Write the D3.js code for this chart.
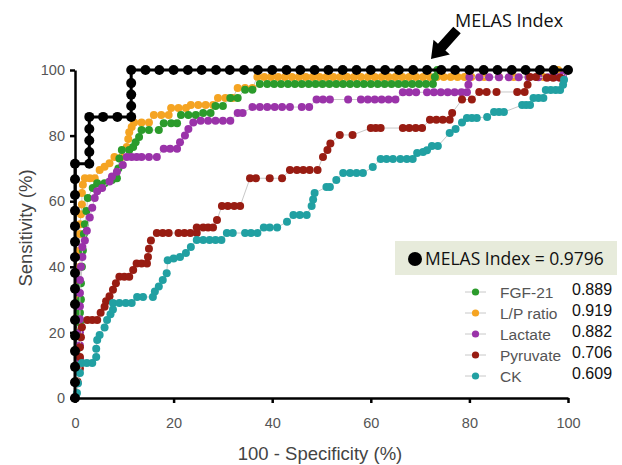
<!DOCTYPE html>
<html>
<head>
<meta charset="utf-8">
<script src="https://cdn.jsdelivr.net/npm/d3@7"></script>
<style>
  body { margin: 0; background: #fff; }
  svg { display: block; }
</style>
</head>
<body>
<div class="canvas"></div>
<script>
// ROC curves, x = 100 - specificity, y = sensitivity (both %)
var melasIndex = [[0,0],[0,4.8],[0,9.5],[0,14.3],[0,19],[0,23.8],[0,28.6],[0,33.3],[0,38.1],[0,42.9],[0,47.6],[0,52.4],[0,57.1],[0,61.9],[0,66.7],[0,71.4],
  [2.9,71.4],[2.9,75],[2.9,78.5],[2.9,82],[2.9,85.7],[5.7,85.7],[8.6,85.7],[11.4,85.7],[11.4,89],[11.4,92.5],[11.4,96],[11.4,100],
  [14.3,100],[17.1,100],[20,100],[22.9,100],[25.7,100],[28.6,100],[31.4,100],[34.3,100],[37.1,100],[40,100],[42.9,100],[45.7,100],[48.6,100],
  [51.4,100],[54.3,100],[57.1,100],[60,100],[62.9,100],[65.7,100],[68.6,100],[71.4,100],[74.3,100],[77.1,100],[80,100],[82.9,100],[85.7,100],
  [88.6,100],[91.4,100],[94.3,100],[97.1,100],[100,100]]

var lpRatio = [[0,0],[0.3,5],[0.3,10],[0.5,15],[0.5,20],[0.5,25],[0.8,30],[0.8,35],[1,40],[1,45],[1,50],[1,53],[1.2,56],[1.4,59],[1.4,62.5],[1.6,65],
  [2,67],[3,67],[4,67],[5,69.5],[6,70.5],[7,71.6],[8,73.5],[9.5,73.5],[10.5,76.5],[10.8,79],[11,81],[11.5,82.6],[12,84],[13.5,84],[15,84],
  [16,86.3],[17.5,86.3],[19,86.3],[19.5,88.4],[21,88.4],[22.5,88.4],[23.5,89.3],[25,89.3],[26.5,89.3],[28,89.3],[29,91.5],[30.5,91.5],[32,91.5],
  [33,94.5],[34.5,94.5],[36,94.5],[37,97.9],[38.4,97.9],[39.8,97.9],[41.2,97.9],[42.6,97.9],[44,97.9],[45.4,97.9],[46.8,97.9],[48.2,97.9],
  [49.6,97.9],[51,97.9],[52.4,97.9],[53.8,97.9],[55.2,97.9],[56.6,97.9],[58,97.9],[59.4,97.9],[60.8,97.9],[62.2,97.9],[63.6,97.9],[65,97.9],
  [66.4,97.9],[67.8,97.9],[69.2,97.9],[70.6,97.9],[72,97.9],[73.4,97.9],[74.8,97.9],[76.2,97.9],[77.6,97.9],[79,97.9],[80.4,97.9],[83,97.9],
  [86,97.9],[89,97.9],[92,97.9],[95,97.9],[97,97.9],[98,100],[100,100]]

var fgf21 = [[0,0],[0.3,5],[0.5,10],[0.5,15],[0.8,20],[1,23],[1,26],[1.2,30],[1.2,35],[1.4,40],[1.6,45],[1.8,50],[2,53],[2.3,57],[2.6,61],[3.6,64],
  [4.5,65.5],[6,65.5],[7.5,66.5],[8.5,67],[8.8,70],[9,73],[9.5,75.6],[11,75.6],[11.8,76.5],[12.3,78],[13,79.6],[13.5,81.7],[15,81.7],[17,81.7],
  [18,83.8],[19.5,83.8],[20.7,83.8],[21.5,86.3],[23,86.3],[24.5,86.3],[26,86.9],[27.5,86.9],[28.5,89],[30,89],[31.5,91.5],[33,91.5],[34.5,94],
  [36,94],[37.5,95.7],[39,95.7],[40.4,95.7],[41.8,95.7],[43.2,95.7],[44.6,95.7],[46,95.7],[47.4,95.7],[48.8,95.7],[50.2,95.7],[51.6,95.7],
  [53,95.7],[54.4,95.7],[55.8,95.7],[57.2,95.7],[58.6,95.7],[60,95.7],[61.4,95.7],[62.8,95.7],[64.2,95.7],[65.6,95.7],[67,95.7],[68.4,95.7],
  [69.8,95.7],[71.2,95.7],[72.6,95.7],[73,97.9],[73.5,100],[100,100]]

var lactate = [[0,0],[0.5,4.5],[0.8,8],[1,12],[1,16],[1,20],[1,24],[1,28],[1,32],[1,36],[1.2,40],[1.5,43],[1.5,46],[2,48],[2.4,51],[3,55],[3.5,58],
  [4,61],[4.5,63],[5.5,64],[7,66],[7.5,67.5],[8.5,69],[9.7,71],[10.5,73.5],[11.5,73.5],[12.5,73.5],[13.5,73.5],[15,73.5],[16.6,73.5],[18,76],
  [19.3,76],[20.7,76],[21.3,78],[22.3,80],[23,82],[24,84],[25.5,84.5],[27,84.5],[28.5,84.5],[30,84.5],[31.5,84.5],[33,86.9],[34,86.9],
  [36,88.7],[37.5,88.7],[39,88.7],[40.5,88.7],[42,88.7],[43.6,88.7],[46,88.7],[47.5,88.7],[49,91],[50.3,91],[51.7,91],[55.4,91],[58,91],
  [59.4,91],[60.8,91],[62.2,91],[63.6,91],[65,91],[66.5,93.2],[67.8,93.2],[69.2,93.2],[71.4,93.2],[72.8,93.2],[74.2,93.2],[75.6,93.2],
  [77,93.2],[78.4,93.2],[79.5,93.2],[79.8,95.5],[80,97.8],[82,97.8],[84,97.8],[86,97.8],[88,97.8],[90,97.8],[92,97.8],[94,97.8],[96,97.8],
  [98,97.8],[99,98.5],[100,100]]

var pyruvate = [[0,0],[0.5,5],[1,9],[1,12.5],[1,15.5],[1.2,18.5],[1.4,21.6],[2.5,23.8],[3.5,23.8],[4.5,23.8],[5.2,26],[6,27.8],[6.3,29.5],[7,31],
  [7.7,33],[8.3,35],[9,37],[10,37],[11,37],[11.8,39],[12.5,41],[13.5,41],[14.6,41],[14.8,43],[15,45.5],[15.4,48],[16.6,50.3],[17.8,50.3],
  [19,50.3],[21,50.3],[22.2,50.3],[23.4,50.3],[24.7,50.3],[24.7,52],[26,52],[27,52],[28,52],[28.8,54.3],[29.8,58.5],[31,58.5],[32.3,58.5],
  [33.5,58.5],[35.5,67],[36.7,67],[39.5,67],[42,67],[43.6,69.5],[45,69.5],[46.3,69.5],[47.6,69.5],[49.2,69.5],[50.3,73.5],[51.2,75.6],
  [51.8,77.6],[53.7,80.2],[56.3,80.2],[60,82.3],[61,82.3],[62,82.3],[66.5,82.3],[67.8,82.3],[69.1,82.3],[70.4,82.3],[72,84.8],[73.3,84.8],
  [74.6,84.8],[76,84.8],[76.5,86.9],[78.5,91],[80.5,91],[82,93.3],[83.5,93.3],[85.5,93.3],[89.7,93.3],[91.2,93.3],[91.8,95.5],[92.3,97.9],
  [93.5,97.9],[95.7,97.6],[97,97.6],[98.4,97.6],[100,100]]

var ck = [[0,0],[0.4,1.5],[0.6,4.5],[1,7.6],[1.4,10.7],[2.4,10.7],[3.5,10.7],[4.3,12.5],[4.3,15],[4.5,17.7],[5,19.2],[6,21.5],[6.5,23.8],[7.2,25.5],
  [7.7,27],[7.7,29],[9,29],[10.3,29],[11.5,29],[12.6,30.8],[13.8,30.8],[15.8,30.8],[16.2,32.5],[17,34],[17.8,36],[18.6,38],[18.8,42],[20,42.5],
  [21.3,43],[22.5,44.2],[23.5,46],[24.7,48.2],[26,48.2],[27.3,48.2],[28.5,48.2],[29.7,48.2],[30.8,50.3],[32,50.3],[34.5,50.3],[35.7,50.3],
  [37,50.3],[38.3,52],[39.5,52],[41,52],[43,53.7],[44.3,55.8],[45.6,55.8],[47,55.8],[48,58.5],[48.3,60.5],[48.6,62.5],[51,64.3],[51.7,64.3],
  [53,66.5],[54.4,68.6],[55.8,68.6],[57.1,68.6],[58.4,68.6],[60.4,70.4],[62,72.9],[63.2,72.9],[64.5,72.9],[66,72.9],[67.3,72.9],[68.5,72.9],
  [69.4,74.7],[70.6,75],[71.4,75.5],[72.4,76.8],[73.6,76.8],[76,80.8],[77.2,82],[78.5,84],[79.5,85.4],[80.5,85.4],[81.5,85.4],[83.6,85.7],
  [85,87.2],[86,87.2],[87,87.2],[90.7,89.3],[91.5,89.3],[92.3,89.3],[93,91.5],[94,91.5],[95,91.5],[95.5,93.9],[96.5,93.9],[97.5,93.9],
  [98.4,93.9],[99,95.5],[99.2,97],[100,100]]

var markerNames = ["FGF-21", "L/P ratio", "Lactate", "Pyruvate", "CK"]
var markerAuc = ["0.889", "0.919", "0.882", "0.706", "0.609"]
var markerColors = ["#2b9b2b", "#f5a422", "#9a33a9", "#981c12", "#21a0a2"]
var markerData = [fgf21, lpRatio, lactate, pyruvate, ck]
var melasAuc = "0.9796"
var xTicks = [0, 20, 40, 60, 80, 100]
var yTicks = [0, 20, 40, 60, 80, 100]

var width = 622, height = 465

var svg = d3.select(".canvas")
    .append("svg")
    .attr("width", width)
    .attr("height", height)

var x = d3.scaleLinear().domain([0, 100]).range([75, 568])
var y = d3.scaleLinear().domain([0, 100]).range([398, 70])

// axes
var xAxis = svg.append("g")
    .attr("transform", "translate(0," + y(0) + ")")
    .call(d3.axisBottom(x).tickValues(xTicks).tickSize(5).tickSizeOuter(0).tickPadding(15))
var yAxis = svg.append("g")
    .attr("transform", "translate(" + x(0) + ",0)")
    .call(d3.axisLeft(y).tickValues(yTicks).tickSize(5).tickSizeOuter(0).tickPadding(5))

svg.selectAll(".domain").attr("stroke", "#000").attr("stroke-width", 2.5)
svg.selectAll(".tick line").attr("stroke", "#000").attr("stroke-width", 2.5)
svg.selectAll(".tick text")
    .attr("fill", "#555")
    .style("font-family", "'Liberation Sans', Arial, sans-serif")
    .style("font-size", "14.5px")

svg.append("text")
    .attr("x", 320).attr("y", 460)
    .attr("text-anchor", "middle")
    .attr("fill", "#444")
    .style("font-family", "'Liberation Sans', Arial, sans-serif")
    .style("font-size", "18.5px")
    .text("100 - Specificity (%)")

svg.append("text")
    .attr("transform", "translate(32,228) rotate(-90)")
    .attr("text-anchor", "middle")
    .attr("fill", "#444")
    .style("font-family", "'Liberation Sans', Arial, sans-serif")
    .style("font-size", "18.5px")
    .text("Sensitivity (%)")

var line = d3.line().x(d => x(d[0])).y(d => y(d[1]))

// colored curves, drawn in the stacking order seen in the picture
var drawOrder = [1, 0, 2, 3, 4]
drawOrder.forEach(function(i) {
  var g = svg.append("g")
  g.append("path")
      .datum(markerData[i])
      .attr("d", line)
      .attr("fill", "none")
      .attr("stroke", "#c8c8c8")
      .attr("stroke-width", 1)
  g.selectAll("circle")
      .data(markerData[i])
      .join("circle")
      .attr("cx", d => x(d[0]))
      .attr("cy", d => y(d[1]))
      .attr("r", 4)
      .attr("fill", markerColors[i])
})

// MELAS Index curve on top
svg.append("path")
    .datum(melasIndex)
    .attr("d", line)
    .attr("fill", "none")
    .attr("stroke", "#000")
    .attr("stroke-width", 3)
svg.append("g").selectAll("circle")
    .data(melasIndex)
    .join("circle")
    .attr("cx", d => x(d[0]))
    .attr("cy", d => y(d[1]))
    .attr("r", 5)
    .attr("fill", "#000")

// annotation with arrow
svg.append("text")
    .attr("x", 455).attr("y", 27)
    .style("font-family", "'Open Sans', sans-serif")
    .style("font-size", "18px")
    .attr("fill", "#111")
    .text("MELAS Index")

var tip = [431, 59], tail = [457, 30]
var dx = tip[0] - tail[0], dy = tip[1] - tail[1]
var len = Math.sqrt(dx * dx + dy * dy)
var ux = dx / len, uy = dy / len, px = -uy, py = ux
var headLen = 16, headW = 11, shaftW = 5
var bx = tip[0] - ux * headLen, by = tip[1] - uy * headLen
var arrowPts = [
  [tail[0] + px * shaftW, tail[1] + py * shaftW],
  [bx + px * shaftW, by + py * shaftW],
  [bx + px * headW, by + py * headW],
  tip,
  [bx - px * headW, by - py * headW],
  [bx - px * shaftW, by - py * shaftW],
  [tail[0] - px * shaftW, tail[1] - py * shaftW]
]
svg.append("path")
    .attr("d", "M" + arrowPts.map(p => p.join(",")).join("L") + "Z")
    .attr("fill", "#000")

// legend
var legend = svg.append("g")
legend.append("rect")
    .attr("x", 395).attr("y", 241)
    .attr("width", 222).attr("height", 34)
    .attr("fill", "#e7ebdb")
legend.append("circle")
    .attr("cx", 415).attr("cy", 259).attr("r", 7)
    .attr("fill", "#000")
legend.append("text")
    .attr("x", 425).attr("y", 265)
    .style("font-family", "'Open Sans', sans-serif")
    .style("font-size", "17.5px")
    .attr("fill", "#111")
    .text("MELAS Index = " + melasAuc)

markerNames.forEach(function(name, i) {
  var cy = 292 + i * 21
  legend.append("line")
      .attr("x1", 465).attr("x2", 486)
      .attr("y1", cy).attr("y2", cy)
      .attr("stroke", "#c8c8c8").attr("stroke-width", 1)
  legend.append("circle")
      .attr("cx", 475.5).attr("cy", cy).attr("r", 3.6)
      .attr("fill", markerColors[i])
  legend.append("text")
      .attr("x", 500).attr("y", cy + 5.5)
      .style("font-family", "'Liberation Sans', Arial, sans-serif")
      .style("font-size", "15.5px")
      .attr("fill", "#555")
      .text(name)
  legend.append("text")
      .attr("x", 572).attr("y", cy + 3)
      .style("font-family", "'Liberation Sans', Arial, sans-serif")
      .style("font-size", "16px")
      .attr("fill", "#111")
      .text(markerAuc[i])
})
</script>
</body>
</html>
